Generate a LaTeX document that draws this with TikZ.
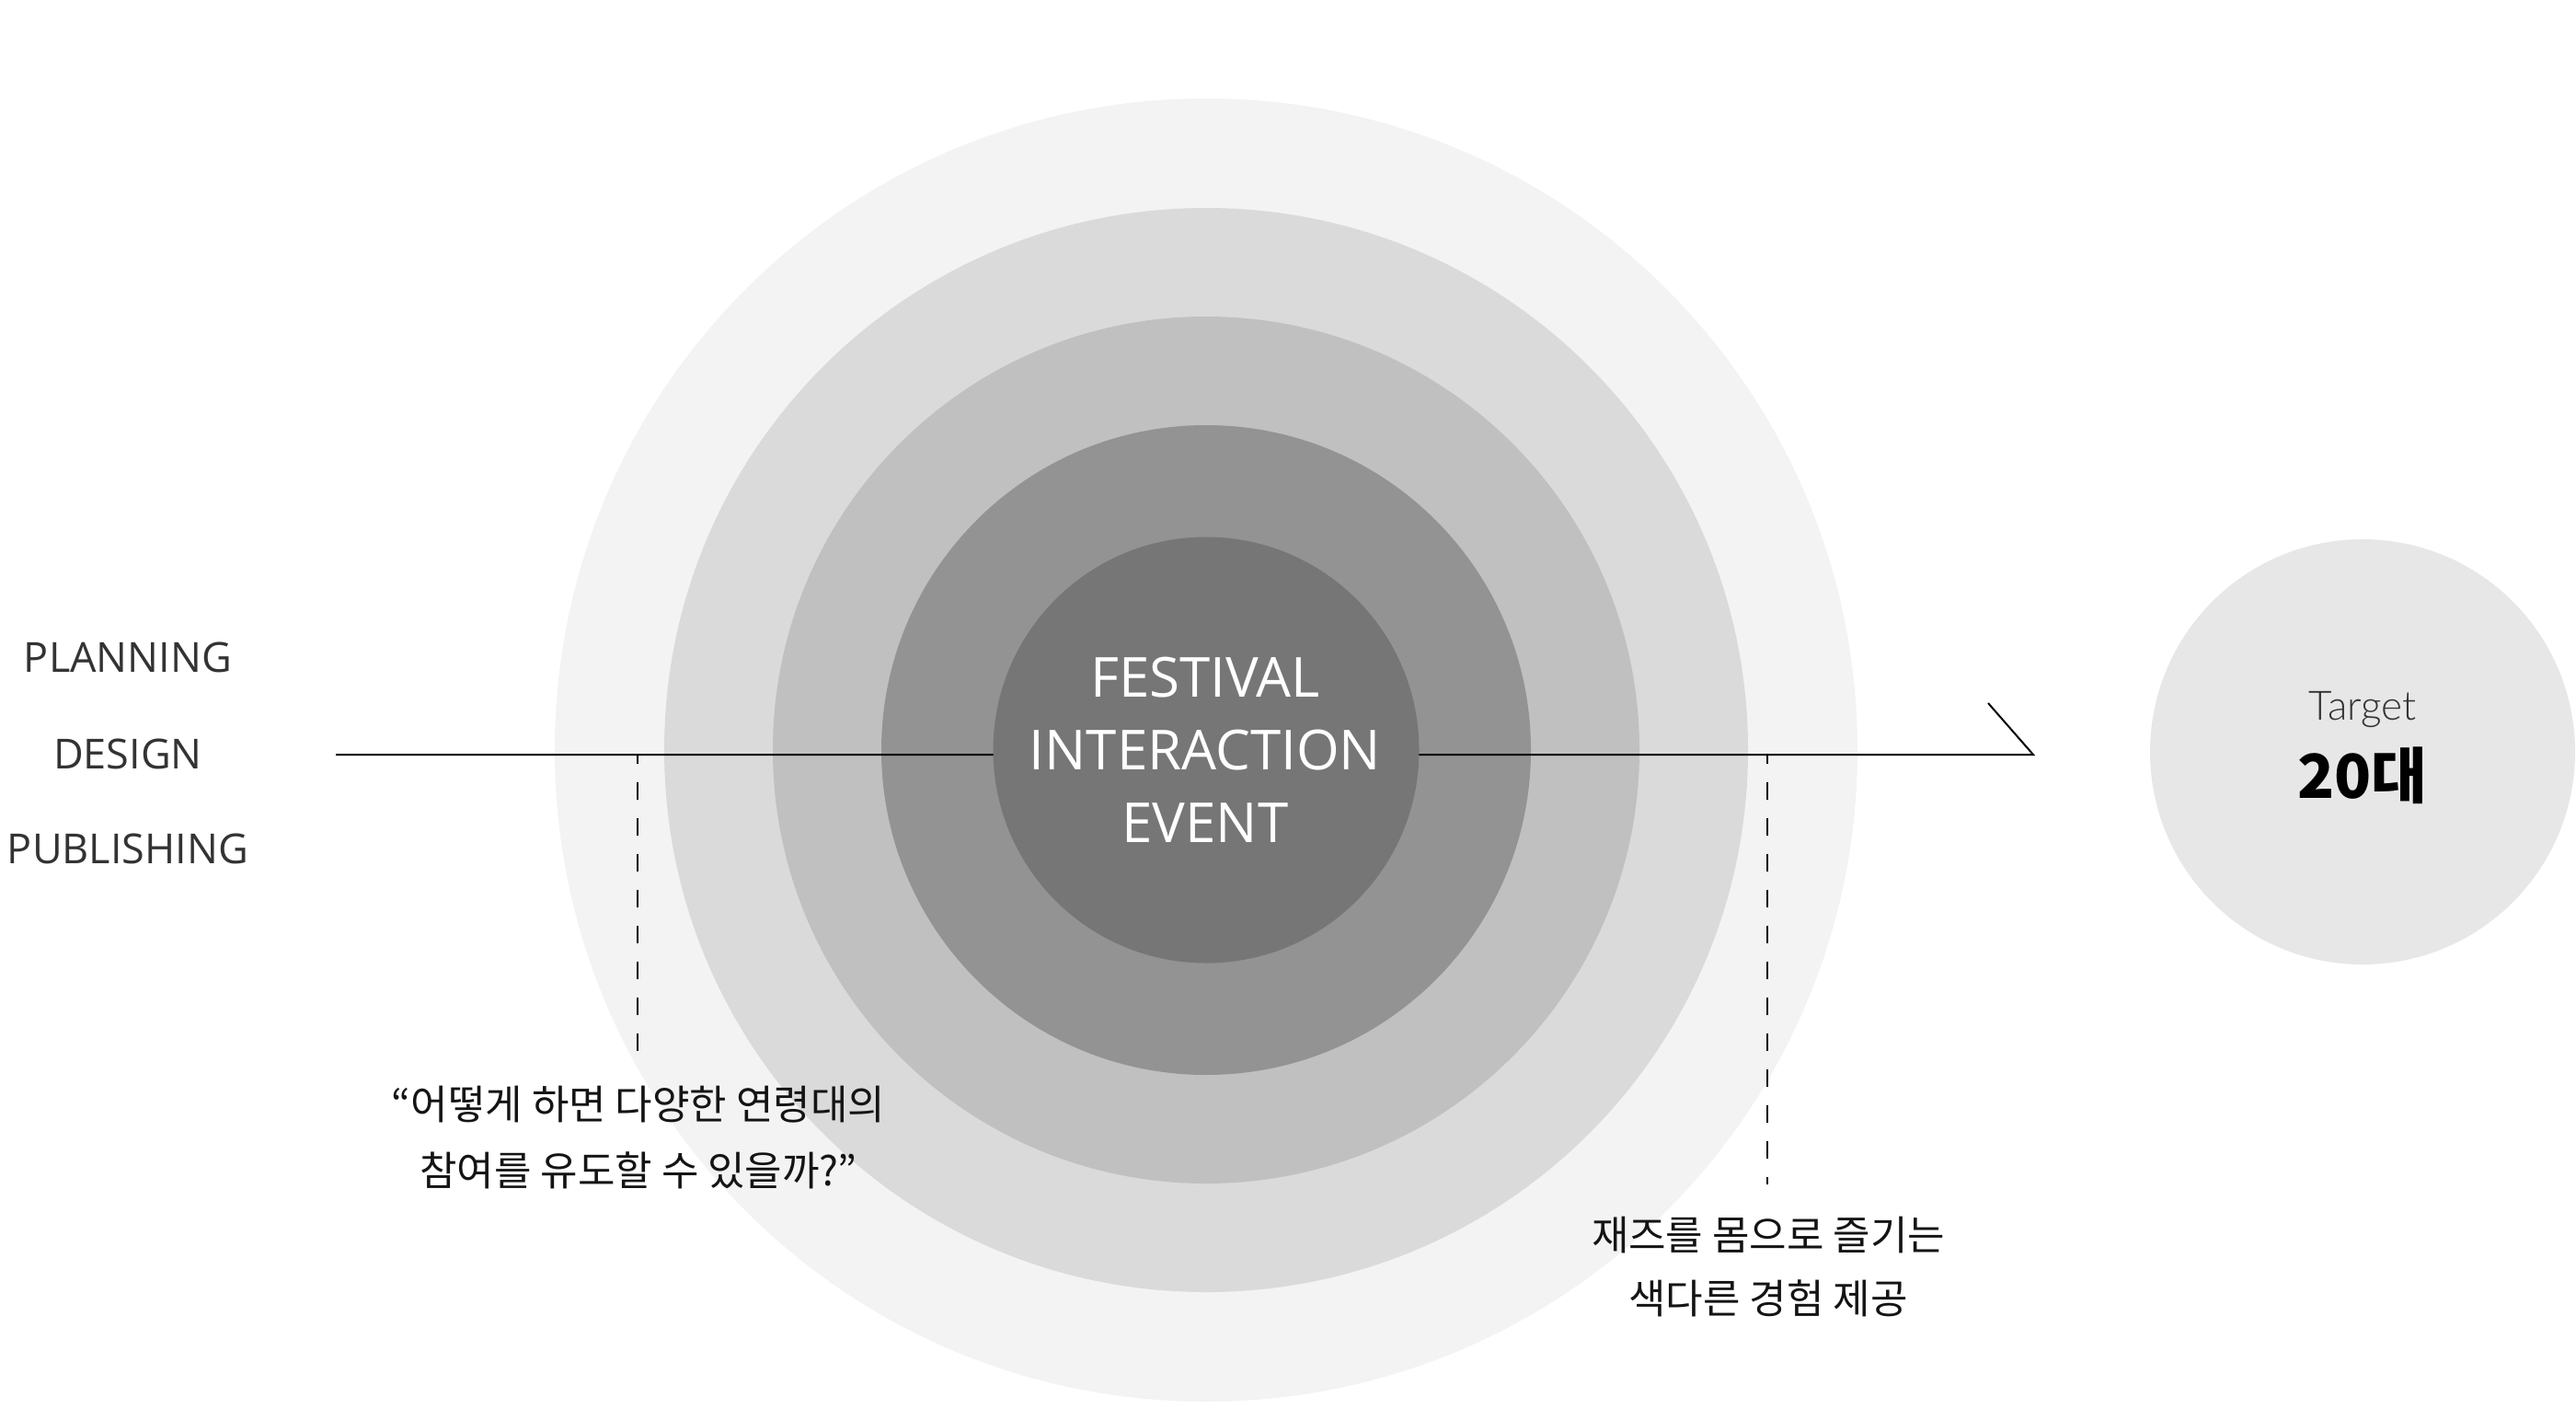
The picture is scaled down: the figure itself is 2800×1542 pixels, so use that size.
\documentclass[tikz,border=0pt]{standalone}
\usepackage{fontspec}
\setmainfont{Open Sans}
\newfontfamily\kr{Noto Sans CJK KR}
\newfontfamily\latolight{Lato Light}
\definecolor{ring1}{HTML}{767676}
\definecolor{ring2}{HTML}{939393}
\definecolor{ring3}{HTML}{C0C0C0}
\definecolor{ring4}{HTML}{DADADA}
\definecolor{ring5}{HTML}{F3F3F3}
\definecolor{targetfill}{HTML}{E7E7E7}
\definecolor{labelgray}{HTML}{333333}
\definecolor{textdark}{HTML}{141414}
\begin{document}
\begin{tikzpicture}[x=1pt,y=-1pt,
  ring/.style={circle, draw=none, inner sep=0pt, minimum size=#1},
  sidelabel/.style={anchor=base, text=labelgray, font=\fontsize{45}{54}\selectfont, inner sep=0pt},
  coretext/.style={anchor=base, text=white, font=\fontsize{60}{72}\selectfont, inner sep=0pt},
  krtext/.style={anchor=base, text=textdark, font=\kr\fontsize{44}{52}\selectfont, inner sep=0pt},
  mainline/.style={draw=black, line width=2pt},
  guide/.style={draw=black, line width=2pt, dash pattern=on 19.5pt off 19.5pt, dash phase=9.5pt}
]
\useasboundingbox (0,0) rectangle (2800,1542);
% rings
\node[ring=1416pt, fill=ring5] (r5) at (1311,815) {};
\node[ring=1178pt, fill=ring4] (r4) at (1311,815) {};
\node[ring=942pt, fill=ring3] (r3) at (1311,815) {};
\node[ring=706pt, fill=ring2] (r2) at (1311,815) {};
% main timeline
\coordinate (start) at (365,820);
\coordinate (tip) at (2210,820);
\coordinate (barb) at (2161,764);
\draw[mainline] (start) -- (tip) -- (barb);
% guides
\coordinate (g1top) at (693,820);
\coordinate (g1bot) at (693,1144);
\coordinate (g2top) at (1921,820);
\coordinate (g2bot) at (1921,1287);
\draw[guide] (g1top) -- (g1bot);
\draw[guide] (g2top) -- (g2bot);
% core
\node[ring=463pt, fill=ring1] (core) at (1311,815) {};
\node[coretext] (t1) at (1310,757) {FESTIVAL};
\node[coretext] (t2) at (1310,836) {INTERACTION};
\node[coretext] (t3) at (1310,915) {EVENT};
% side labels
\node[sidelabel] (planning) at (139,730) {PLANNING};
\node[sidelabel] (design) at (139,835) {DESIGN};
\node[sidelabel] (publishing) at (139,938) {PUBLISHING};
% target
\node[ring=462pt, fill=targetfill] (target) at (2568,817) {};
\node[anchor=base, inner sep=0pt, text=labelgray, font=\latolight\fontsize{44}{52}\selectfont] (targetlbl) at (2568,782) {Target};
\node[anchor=base, inner sep=0pt, text=black, font=\kr\bfseries\fontsize{66}{78}\selectfont] (age) at (2568,867) {20대};
% Korean notes
\node[krtext] (q1) at (694,1216) {“어떻게 하면 다양한 연령대의};
\node[krtext] (q2) at (694,1288) {참여를 유도할 수 있을까?”};
\node[krtext] (n1) at (1922,1358) {재즈를 몸으로 즐기는};
\node[krtext] (n2) at (1922,1427) {색다른 경험 제공};
\end{tikzpicture}
\end{document}
